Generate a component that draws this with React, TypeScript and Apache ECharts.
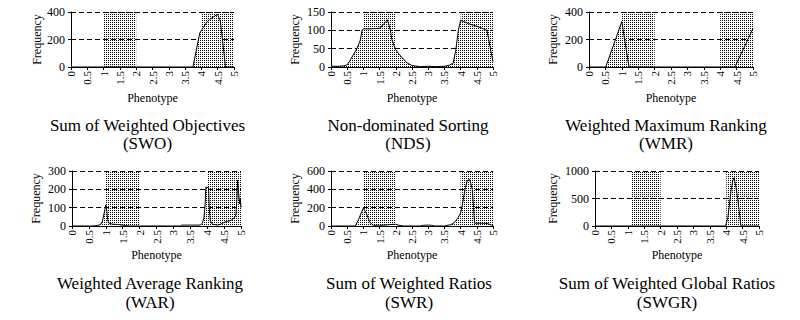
import React, { useEffect, useRef } from 'react';
import * as echarts from 'echarts';

// ---- Data (phenotype x, frequency y) ----
const swoX = [0, 3.74, 3.85, 3.95, 4.05, 4.15, 4.25, 4.36, 4.45, 4.5, 4.58, 4.66, 4.74, 5];
const swoY = [0, 0, 130, 247, 285, 320, 345, 363, 377, 380, 335, 170, 0, 0];

const ndsX = [0, 0.25, 0.4, 0.5, 0.6, 0.7, 0.8, 0.9, 0.96, 1.0, 1.1, 1.25, 1.4, 1.52, 1.6, 1.68, 1.73, 1.78, 1.83, 1.88, 1.94, 2.0, 2.1, 2.2, 2.35, 2.5, 2.75, 3.0, 3.25, 3.5, 3.65, 3.77, 3.85, 3.93, 4.0, 4.1, 4.25, 4.4, 4.5, 4.65, 4.81, 4.87, 4.93, 5.0];
const ndsY = [2, 2, 3, 6, 20, 35, 50, 72, 100, 104, 104, 104, 105, 106, 115, 122, 129, 118, 100, 75, 60, 47, 35, 25, 11, 4, 1, 2, 1, 2, 5, 10, 45, 100, 127, 124, 118, 114, 111, 106, 100, 75, 45, 15];

const wmrX = [0, 0.51, 1.0, 1.22, 4.45, 5];
const wmrY = [0, 0, 330, 0, 0, 280];

const warX = [0, 0.6, 0.7, 0.8, 0.85, 0.9, 0.95, 1.0, 1.03, 1.06, 1.1, 1.2, 1.35, 1.5, 1.6, 1.7, 3.2, 3.25, 3.8, 3.85, 3.9, 3.94, 3.96, 4.04, 4.06, 4.09, 4.15, 4.3, 4.4, 4.5, 4.6, 4.7, 4.8, 4.85, 4.88, 4.9, 4.93, 4.96, 4.98, 5.0];
const warY = [0, 0, 2, 5, 10, 25, 70, 115, 80, 30, 15, 10, 8, 5, 2, 0, 0, 5, 5, 15, 40, 120, 212, 210, 100, 30, 10, 5, 10, 20, 25, 30, 45, 60, 150, 250, 180, 120, 150, 100];

const swrX = [0, 0.75, 0.85, 0.95, 1.0, 1.1, 1.2, 1.3, 1.5, 1.75, 1.9, 2.0, 2.1, 2.25, 2.75, 2.85, 3.0, 3.1, 3.2, 3.5, 3.7, 3.8, 3.9, 4.0, 4.05, 4.1, 4.15, 4.2, 4.27, 4.32, 4.36, 4.4, 4.43, 4.5, 4.75, 4.85, 4.95, 5.0];
const swrY = [0, 0, 70, 160, 195, 130, 40, 8, 8, 12, 18, 18, 8, 0, 0, 8, 10, 8, 0, 0, 15, 35, 80, 140, 220, 330, 420, 490, 510, 460, 400, 200, 30, 30, 30, 25, 10, 0];

const swgrX = [0, 3.98, 4.05, 4.1, 4.15, 4.2, 4.24, 4.3, 4.35, 4.4, 4.45, 5];
const swgrY = [0, 0, 150, 400, 650, 820, 880, 700, 500, 250, 0, 0];

const xTicks = [0, 0.5, 1, 1.5, 2, 2.5, 3, 3.5, 4, 4.5, 5];
const yMaxes = [400, 150, 400, 300, 600, 1000];
const yIntervals = [200, 50, 200, 100, 200, 500];
const shadeRanges = [
  [[1, 2], [4, 5]],
  [[1, 2], [4, 5]],
  [[1, 2], [4, 5]],
  [[1, 2], [4, 5]],
  [[1, 2], [4, 5]],
  [[1.1, 2], [4, 5]],
];
const titles = [
  'Sum of Weighted Objectives',
  'Non-dominated Sorting',
  'Weighted Maximum Ranking',
  'Weighted Average Ranking',
  'Sum of Weighted Ratios',
  'Sum of Weighted Global Ratios',
];
const abbrevs = ['(SWO)', '(NDS)', '(WMR)', '(WAR)', '(SWR)', '(SWGR)'];
const seriesX = [swoX, ndsX, wmrX, warX, swrX, swgrX];
const seriesY = [swoY, ndsY, wmrY, warY, swrY, swgrY];
const xAxisName = 'Phenotype';
const yAxisName = 'Frequency';

// ---- Layout ----
const grids = [
  { left: 71, top: 12, width: 163, height: 55 },
  { left: 331, top: 12, width: 162, height: 55 },
  { left: 589, top: 12, width: 164, height: 55 },
  { left: 72, top: 171, width: 169, height: 55 },
  { left: 331, top: 171, width: 162, height: 55 },
  { left: 595, top: 171, width: 164, height: 55 },
];
const freqOffsets = [34, 36, 36, 36, 36, 42];
const captionX = [147.5, 408, 666, 150, 409, 667];
const captionY1 = [125, 125, 125, 283, 283, 283];
const captionY2 = [143, 143, 143, 302, 302, 302];
const phenoY = [98, 98, 98, 255, 255, 255];

const FONT = 'Liberation Serif';

function makePattern() {
  const c = document.createElement('canvas');
  c.width = 2;
  c.height = 2;
  const ctx = c.getContext('2d')!;
  ctx.fillStyle = '#ffffff';
  ctx.fillRect(0, 0, 2, 2);
  ctx.fillStyle = '#000000';
  ctx.fillRect(0, 0, 1, 1);
  return { image: c, repeat: 'repeat', imageWidth: 2, imageHeight: 2 } as any;
}

function textEl(text: string, x: number, y: number, size: number, rotation = 0) {
  return {
    type: 'text',
    x,
    y,
    rotation,
    style: {
      text,
      fontFamily: FONT,
      fontSize: size,
      fill: '#000',
      align: 'center',
      verticalAlign: 'middle',
      textAlign: 'center',
      textVerticalAlign: 'middle',
    },
  };
}

export default function App() {
  const ref = useRef<HTMLDivElement>(null);
  useEffect(() => {
    if (!ref.current) return;
    const chart = echarts.init(ref.current, null, { renderer: 'svg' });
    const pattern = makePattern();

    const gridOpt = grids.map((g) => ({ ...g, containLabel: false }));
    const xAxes = grids.map((_, i) => ({
      type: 'value',
      gridIndex: i,
      min: xTicks[0],
      max: xTicks[xTicks.length - 1],
      interval: 0.5,
      axisLine: { show: true, onZero: false, lineStyle: { color: '#000', width: 1 } },
      axisTick: { show: true, length: 3, lineStyle: { color: '#000' } },
      splitLine: { show: false },
      axisLabel: {
        rotate: 90,
        margin: 4,
        color: '#000',
        fontFamily: FONT,
        fontSize: 11,
        showMinLabel: true,
        showMaxLabel: true,
        formatter: (v: number) => String(v),
      },
    }));
    const yAxes = grids.map((_, i) => ({
      type: 'value',
      gridIndex: i,
      min: 0,
      max: yMaxes[i],
      interval: yIntervals[i],
      axisLine: { show: true, lineStyle: { color: '#000', width: 1 } },
      axisTick: { show: true, length: 3, lineStyle: { color: '#000' } },
      splitLine: { show: true, lineStyle: { color: '#000', width: 1, type: [5, 3] } },
      axisLabel: {
        margin: 6,
        color: '#000',
        fontFamily: FONT,
        fontSize: 12,
        formatter: (v: number) => String(v),
      },
    }));
    const series = grids.map((_, i) => ({
      type: 'line',
      xAxisIndex: i,
      yAxisIndex: i,
      data: seriesX[i].map((x, k) => [x, seriesY[i][k]]),
      symbol: 'none',
      lineStyle: { color: '#000', width: 1 },
      itemStyle: { color: '#000' },
      areaStyle: { color: pattern, opacity: 1 },
      silent: true,
      markArea: {
        silent: true,
        z: -1,
        itemStyle: { color: pattern, opacity: 1 },
        data: shadeRanges[i].map((r) => [{ xAxis: r[0] }, { xAxis: r[1] }]),
      },
    }));

    const graphics: any[] = [];
    grids.forEach((g, i) => {
      graphics.push(textEl(yAxisName, g.left - freqOffsets[i], g.top + g.height / 2, 12, Math.PI / 2));
      graphics.push(textEl(xAxisName, g.left + g.width / 2, phenoY[i], 12));
      graphics.push(textEl(titles[i], captionX[i], captionY1[i], 17));
      graphics.push(textEl(abbrevs[i], captionX[i], captionY2[i], 17));
    });

    chart.setOption({
      animation: false,
      backgroundColor: '#fff',
      grid: gridOpt,
      xAxis: xAxes,
      yAxis: yAxes,
      series,
      graphic: graphics,
    } as any);
    return () => chart.dispose();
  }, []);
  return (
    <div
      ref={ref}
      style={{ position: 'fixed', left: 0, top: 0, width: 800, height: 320, background: '#fff' }}
    />
  );
}
